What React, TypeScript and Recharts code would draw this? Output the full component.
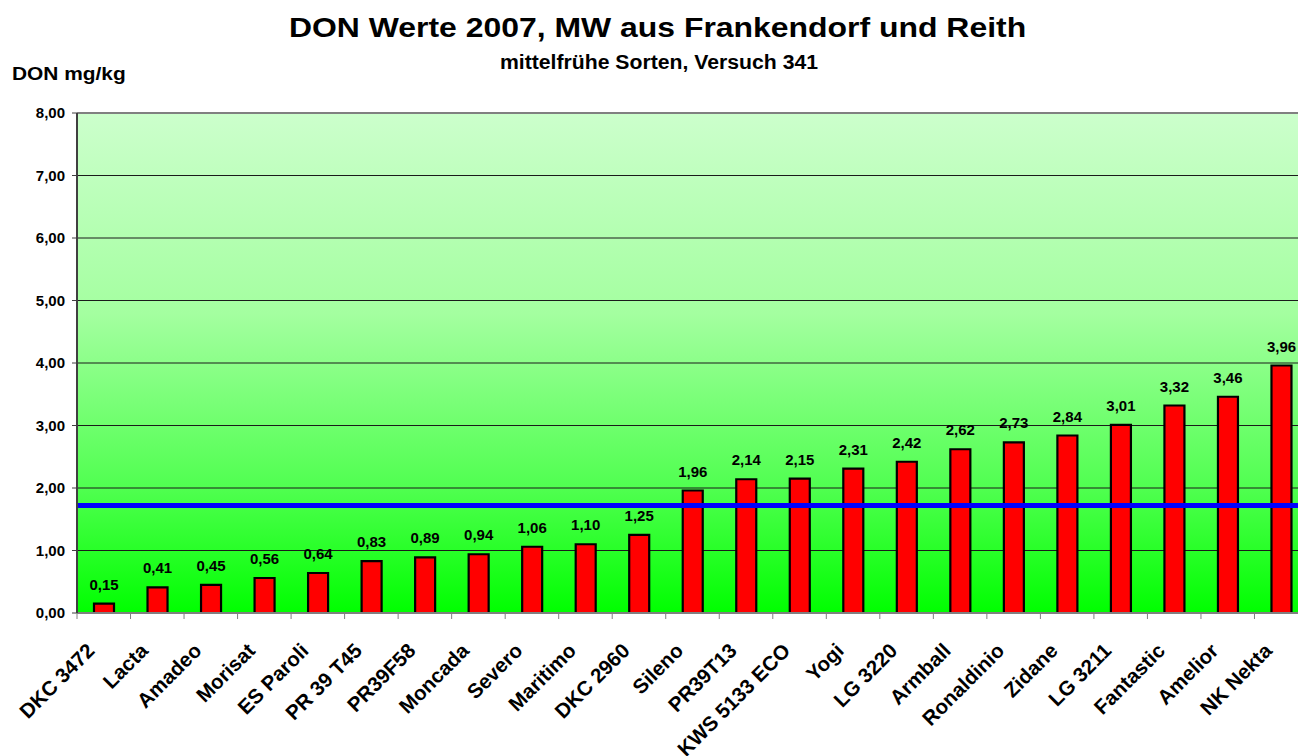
import React from 'react';
import { BarChart, Bar, XAxis, YAxis, CartesianGrid, ReferenceLine, LabelList } from 'recharts';

const sorten = [
  'DKC 3472', 'Lacta', 'Amadeo', 'Morisat', 'ES Paroli', 'PR 39 T45', 'PR39F58', 'Moncada',
  'Severo', 'Maritimo', 'DKC 2960', 'Sileno', 'PR39T13', 'KWS 5133 ECO', 'Yogi', 'LG 3220',
  'Armball', 'Ronaldinio', 'Zidane', 'LG 3211', 'Fantastic', 'Amelior', 'NK Nekta',
];
const donWerte = [
  0.15, 0.41, 0.45, 0.56, 0.64, 0.83, 0.89, 0.94, 1.06, 1.1, 1.25, 1.96,
  2.14, 2.15, 2.31, 2.42, 2.62, 2.73, 2.84, 3.01, 3.32, 3.46, 3.96,
];
const mittelwert = 1.72;
const yTicks = [0, 1, 2, 3, 4, 5, 6, 7, 8];

const data = sorten.map((name, i) => ({ name, value: donWerte[i] }));

const FONT = '"Liberation Sans", Arial, sans-serif';
const fmt = (v: number) => v.toFixed(2).replace('.', ',');

// x tick: mark at category boundary, label rotated -45deg
const XTick = ({ x, y, payload }: any) => {
  const half = payload && typeof payload.offset === 'number' && payload.offset > 0 ? payload.offset : 26.75;
  const ax = x - 8;
  const ay = y + 39;
  return (
    <g>
      <line x1={x - half} x2={x - half} y1={y} y2={y + 6} stroke="#808080" strokeWidth={1} />
      <text
        x={ax}
        y={ay}
        textAnchor="end"
        transform={`rotate(-45, ${ax}, ${ay})`}
        fontSize={20.5}
        fontWeight="bold"
        fill="#000"
        fontFamily={FONT}
      >
        {payload.value}
      </text>
    </g>
  );
};

export default function App() {
  return (
    <div style={{ position: 'absolute', left: 0, top: 0, width: 1298, height: 756, overflow: 'hidden', background: '#fff', fontFamily: FONT }}>
      <div style={{ position: 'absolute', left: 0, width: 1315, top: 14, textAlign: 'center', fontSize: 28, lineHeight: 1, fontWeight: 'bold', transform: 'scaleX(1.14)', transformOrigin: '657px 0' }}>
        DON Werte 2007, MW aus Frankendorf und Reith
      </div>
      <div style={{ position: 'absolute', left: 0, width: 1318, top: 52, textAlign: 'center', fontSize: 20, lineHeight: 1, fontWeight: 'bold', transform: 'scaleX(1.06)', transformOrigin: '659px 0' }}>
        mittelfrühe Sorten, Versuch 341
      </div>
      <div style={{ position: 'absolute', left: 12, top: 65, fontSize: 18, lineHeight: 1, fontWeight: 'bold', transform: 'scaleX(1.16)', transformOrigin: '0 0', whiteSpace: 'nowrap' }}>
        DON mg/kg
      </div>
      <BarChart
        width={1320}
        height={756}
        data={data}
        margin={{ top: 113, right: 12, left: 0, bottom: 0 }}
        style={{ fontFamily: FONT }}
      >
        <defs>
          <linearGradient id="bgGreen" x1="0" y1="0" x2="0" y2="1">
            <stop offset="0%" stopColor="#CCFFCC" />
            <stop offset="40%" stopColor="#A4FFA0" />
            <stop offset="75%" stopColor="#50FF50" />
            <stop offset="100%" stopColor="#00FF00" />
          </linearGradient>
        </defs>
        <CartesianGrid vertical={false} stroke="#1a1a1a" strokeWidth={1} fill="url(#bgGreen)" fillOpacity={1} />
        <XAxis
          dataKey="name"
          interval={0}
          height={143}
          tickLine={false}
          tickSize={0}
          tickMargin={0}
          axisLine={{ stroke: '#808080', strokeWidth: 2 }}
          tick={<XTick />}
        />
        <YAxis
          domain={[0, 8]}
          ticks={yTicks}
          width={77}
          interval={0}
          tickFormatter={fmt}
          tick={{ fill: '#000', fontSize: 15, fontWeight: 'bold' }}
          tickSize={5}
          tickMargin={7}
          tickLine={{ stroke: '#404040', strokeWidth: 1 }}
          axisLine={{ stroke: '#404040', strokeWidth: 2 }}
        />
        <ReferenceLine y={8} stroke="#808080" strokeWidth={2} />
        <Bar dataKey="value" fill="#FF0000" stroke="#000" strokeWidth={2.2} barSize={20} isAnimationActive={false}>
          <LabelList
            dataKey="value"
            position="top"
            offset={14}
            formatter={(v: any) => fmt(Number(v))}
            style={{ fill: '#000', fontSize: 15, fontWeight: 'bold' }}
          />
        </Bar>
        <ReferenceLine y={mittelwert} stroke="#0000FF" strokeWidth={5} />
      </BarChart>
    </div>
  );
}
